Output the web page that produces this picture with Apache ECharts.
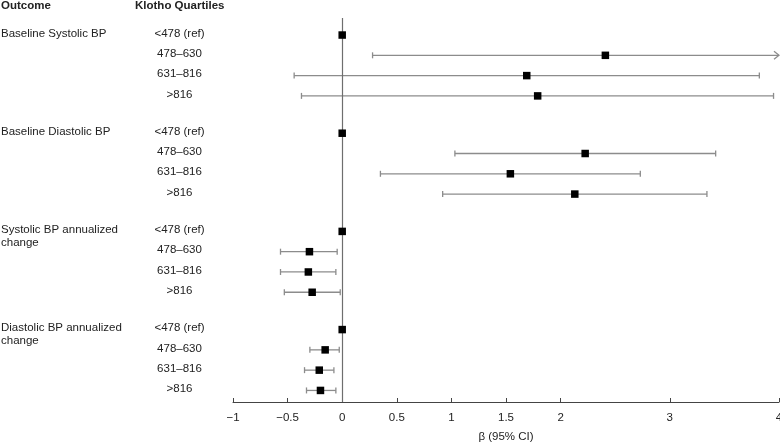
<!DOCTYPE html>
<html>
<head>
<meta charset="utf-8">
<script src="https://cdn.jsdelivr.net/npm/echarts@6/dist/echarts.min.js"></script>
<style>
html,body{margin:0;padding:0;background:#fff;}
#chart{width:780px;height:446px;}
</style>
</head>
<body>
<div id="chart"></div>
<script>
// ---- data ----
const outcomes = ['Baseline Systolic BP', 'Baseline Diastolic BP', 'Systolic BP annualized\nchange', 'Diastolic BP annualized\nchange'];
const quartiles = ['<478 (ref)', '478–630', '631–816', '>816'];
const betaSBP   = [0, 2.41, 1.69, 1.79];
const betaDBP   = [0, 2.225, 1.54, 2.13];
const betaSBPch = [0, -0.30, -0.31, -0.275];
const betaDBPch = [0, -0.156, -0.21, -0.199];
const lowerSBP   = [null, 0.278, -0.44, -0.373];
const lowerDBP   = [null, 1.032, 0.35, 0.92];
const lowerSBPch = [null, -0.565, -0.565, -0.53];
const lowerDBPch = [null, -0.296, -0.345, -0.327];
const upperSBP   = [null, 4.54, 3.82, 3.95];
const upperDBP   = [null, 3.42, 2.73, 3.34];
const upperSBPch = [null, -0.046, -0.058, -0.018];
const upperDBPch = [null, -0.027, -0.076, -0.058];
const xTicks = [-1, -0.5, 0, 0.5, 1, 1.5, 2, 3, 4];
const xMin = -1, xMax = 4;
const axisTitle = 'β (95% CI)';
const headerOutcome = 'Outcome';
const headerQuartile = 'Klotho Quartiles';

const betas = [betaSBP, betaDBP, betaSBPch, betaDBPch];
const lowers = [lowerSBP, lowerDBP, lowerSBPch, lowerDBPch];
const uppers = [upperSBP, upperDBP, upperSBPch, upperDBPch];

// ---- layout ----
const GROUP_STEP = 4.84;
const FONT = "'Liberation Sans', Arial, Helvetica, sans-serif";
const FS = 11.5;
const rowPos = (g, i) => g * GROUP_STEP + i;

const pointData = [], barData = [], qLabelData = [], oLabelData = [];
betas.forEach((arr, g) => {
  oLabelData.push([rowPos(g, 0), outcomes[g]]);
  arr.forEach((b, i) => {
    pointData.push([b, rowPos(g, i)]);
    qLabelData.push([rowPos(g, i), quartiles[i]]);
    if (lowers[g][i] != null) barData.push([lowers[g][i], uppers[g][i], rowPos(g, i)]);
  });
});

const chart = echarts.init(document.getElementById('chart'), null, {renderer: 'canvas'});
const fmt = v => (v < 0 ? '\u2212' + Math.abs(v) : String(v));

chart.setOption({
  animation: false,
  backgroundColor: '#fff',
  grid: {left: 233, right: 1, top: 18, bottom: 44, outerBoundsMode: 'none', containLabel: false},
  xAxis: {
    type: 'value', min: xMin, max: xMax,
    name: axisTitle, nameLocation: 'middle', nameGap: 29,
    nameTextStyle: {fontFamily: FONT, fontSize: FS, color: '#222'},
    axisLine: {show: true, onZero: false, lineStyle: {color: '#444', width: 1}},
    axisTick: {show: true, inside: true, length: 4, customValues: xTicks, lineStyle: {color: '#444'}},
    axisLabel: {customValues: xTicks, formatter: fmt, margin: 10, fontFamily: FONT, fontSize: FS, color: '#222'},
    splitLine: {show: false}
  },
  yAxis: {
    type: 'value', inverse: true, min: -0.84, max: 18.09, show: false
  },
  series: [
    {
      type: 'custom', z: 2,
      data: barData,
      encode: {x: [0, 1], y: 2},
      renderItem: function (params, api) {
        const lo = api.value(0), hi = api.value(1), y = api.value(2);
        const hiC = Math.min(hi, xMax);
        const p1 = api.coord([lo, y]), p2 = api.coord([hiC, y]);
        const st = {stroke: '#8c8c8c', lineWidth: 1.3};
        const ch = [
          {type: 'line', shape: {x1: p1[0], y1: p1[1], x2: p2[0], y2: p2[1]}, style: st},
          {type: 'line', shape: {x1: p1[0], y1: p1[1] - 3, x2: p1[0], y2: p1[1] + 3}, style: st}
        ];
        if (hi > xMax) {
          ch.push({type: 'polyline', shape: {points: [[p2[0] - 5, p2[1] - 4], [p2[0], p2[1]], [p2[0] - 5, p2[1] + 4]]}, style: Object.assign({fill: null}, st)});
        } else {
          ch.push({type: 'line', shape: {x1: p2[0], y1: p2[1] - 3, x2: p2[0], y2: p2[1] + 3}, style: st});
        }
        return {type: 'group', children: ch};
      }
    },
    {
      type: 'scatter', z: 5,
      data: pointData,
      symbol: 'rect', symbolSize: 7.5,
      itemStyle: {color: '#000', opacity: 1},
      markLine: {
        silent: true, symbol: 'none', animation: false,
        label: {show: false},
        lineStyle: {color: '#6e6e6e', width: 1.2, type: 'solid'},
        data: [{xAxis: 0}]
      }
    },
    {
      type: 'custom', z: 3, clip: false,
      data: qLabelData,
      encode: {y: 0},
      renderItem: function (params, api) {
        const p = api.coord([0, api.value(0)]);
        return {type: 'text', x: 179.5, y: p[1] - 1.5,
          style: {text: quartiles[params.dataIndex % 4], font: FS + 'px ' + FONT, fill: '#222', align: 'center', verticalAlign: 'middle'}};
      }
    },
    {
      type: 'custom', z: 3, clip: false,
      data: oLabelData,
      encode: {y: 0},
      renderItem: function (params, api) {
        const p = api.coord([0, api.value(0)]);
        return {type: 'text', x: 1, y: p[1] - 1.5 - 6.5,
          style: {text: outcomes[params.dataIndex], font: FS + 'px ' + FONT, fill: '#222', align: 'left', verticalAlign: 'top', lineHeight: 13}};
      }
    }
  ],
  graphic: [
    {type: 'text', left: 1, top: 0, style: {text: headerOutcome, font: 'bold ' + FS + 'px ' + FONT, fill: '#222'}},
    {type: 'text', left: 135, top: 0, style: {text: headerQuartile, font: 'bold ' + FS + 'px ' + FONT, fill: '#222'}}
  ]
});
</script>
</body>
</html>
